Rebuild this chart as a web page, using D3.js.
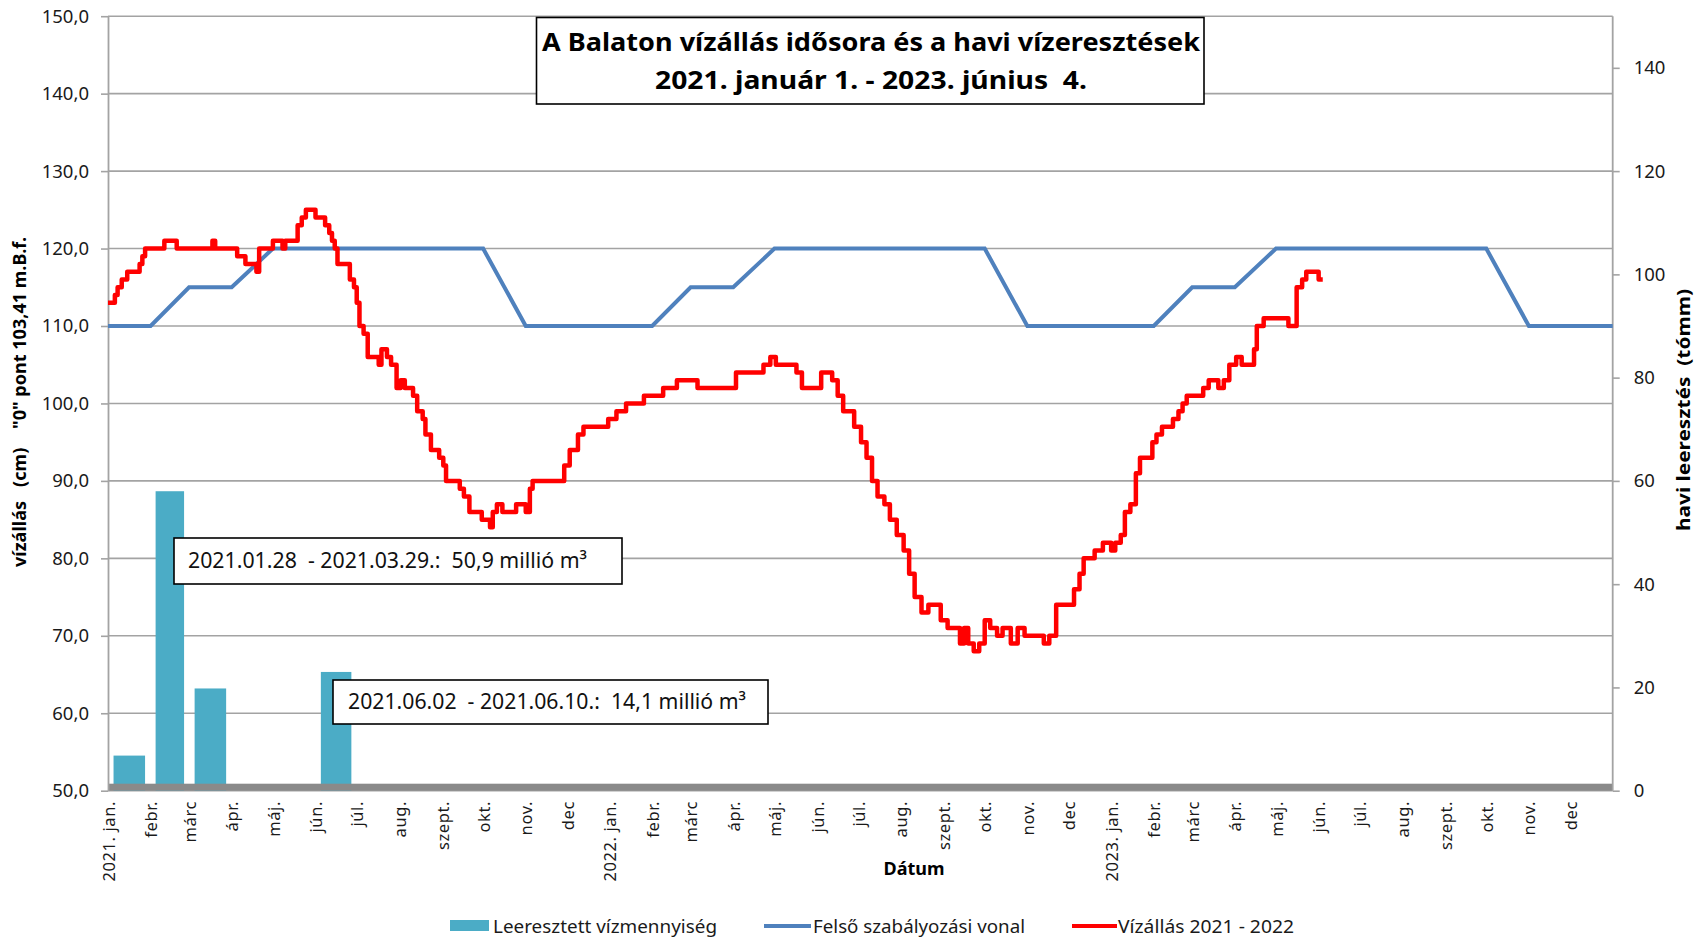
<!DOCTYPE html>
<html>
<head>
<meta charset="utf-8">
<script src="https://cdn.jsdelivr.net/npm/d3@7"></script>
<style>
  body { margin: 0; background: #fff; }
  svg { display: block; font-family: "Noto Sans", sans-serif; }
  text { white-space: pre; }
</style>
</head>
<body>
<svg id="chart" width="1696" height="938"></svg>
<script>
// month labels on the date axis
const monthLabels = ['jan.', 'febr.', 'márc', 'ápr.', 'máj.', 'jún.', 'júl.', 'aug.', 'szept.', 'okt.', 'nov.', 'dec']
const years = [2021, 2022, 2023]

// monthly released water (tómm), right axis
const barMonths = ['2021-01', '2021-02', '2021-03', '2021-06']
const barValues = [6.8, 58.0, 19.8, 23.0]

// upper regulation line (cm)
const regDates = ['2021-01-01', '2021-02-01', '2021-03-01', '2021-04-01', '2021-05-01', '2021-10-01', '2021-11-01',
  '2022-02-01', '2022-03-01', '2022-04-01', '2022-05-01', '2022-10-01', '2022-11-01',
  '2023-02-01', '2023-03-01', '2023-04-01', '2023-05-01', '2023-10-01', '2023-11-01', '2024-01-01']
const regValues = [110, 110, 115, 115, 120, 120, 110,
  110, 115, 115, 120, 120, 110,
  110, 115, 115, 120, 120, 110, 110]

// water level (cm), day offset from 2021-01-01 -> value
const levelDay = [0, 5, 7, 10, 14, 23, 25, 27, 41, 50, 76, 78, 94, 100, 108, 110, 120, 127, 129, 138, 141, 144, 151, 158, 161, 163, 165, 167, 176, 179, 181, 183,
  186, 189, 197, 199, 203, 206, 210, 213, 216, 222, 225, 229, 231, 235, 241, 244, 246, 256, 259, 263, 272, 278, 280, 283, 287, 297, 304, 307, 309, 332, 336, 342, 346, 364, 370, 377, 390,
  404, 414, 429, 457, 477, 482, 486, 501, 505, 519, 527, 531, 535, 543, 548, 552, 556, 560, 565, 569, 574, 579, 583, 587, 592, 597, 606, 611, 620, 623, 626, 630, 634, 638, 642, 647, 651, 657, 662, 667, 681, 685, 690, 703, 707, 710,
  718, 724, 730, 733, 737, 740, 744, 748, 751, 760, 763, 767, 775, 779, 782, 785, 797, 801, 808, 812, 816, 821, 825, 834, 836, 841, 859, 865, 869, 872, 881, 884]
const levelCm = [113, 114, 115, 116, 117, 118, 119, 120, 121, 120, 121, 120, 119, 118, 117, 120, 121, 120, 121, 123, 124, 125, 124, 123, 122, 121, 120, 118, 116, 115, 113, 110,
  109, 106, 105, 107, 106, 105, 102, 103, 102, 101, 99, 98, 96, 94, 93, 92, 90, 89, 88, 86, 85, 84, 86, 87, 86, 87, 86, 89, 90, 92, 94, 96, 97, 98, 99, 100, 101,
  102, 103, 102, 104, 105, 106, 105, 104, 102, 104, 103, 101, 99, 97, 95, 93, 90, 88, 87, 85, 83, 81, 78, 75, 73, 74, 72, 71, 69, 71, 69, 68, 69, 72, 71, 70, 71, 69, 71, 70, 69, 70, 74, 76, 78, 80,
  81, 82, 81, 82, 83, 86, 87, 91, 93, 95, 96, 97, 98, 99, 100, 101, 102, 103, 102, 103, 105, 106, 105, 107, 110, 111, 110, 115, 116, 117, 116, 116]

const titleLines = ['A Balaton vízállás idősora és a havi vízeresztések', '2021. január 1. - 2023. június  4.']
const notes = ['2021.01.28  - 2021.03.29.:  50,9 millió m³', '2021.06.02  - 2021.06.10.:  14,1 millió m³']
const legendNames = ['Leeresztett vízmennyiség', 'Felső szabályozási vonal', 'Vízállás 2021 - 2022']

const svg = d3.select('#chart')
const plotLeft = 108, plotRight = 1612.7, plotTop = 16.2, plotBottom = 790.7
const grey = '#a3a3a3'
const start = new Date(Date.UTC(2021, 0, 1))
const end = new Date(Date.UTC(2024, 0, 1))

const x = d3.scaleUtc().domain([start, end]).range([plotLeft, plotRight])
const yL = d3.scaleLinear().domain([50, 150]).range([plotBottom, plotTop])
const yR = d3.scaleLinear().domain([0, 150]).range([plotBottom, plotTop])

const fit = (sel, w) => sel.attr('textLength', w).attr('lengthAdjust', 'spacingAndGlyphs')

// gridlines
svg.append('g').selectAll('line')
  .data(d3.range(50, 151, 10))
  .join('line')
  .attr('x1', plotLeft).attr('x2', plotRight)
  .attr('y1', d => yL(d)).attr('y2', d => yL(d))
  .attr('stroke', grey).attr('stroke-width', 1.6)

// bars
const parseMonth = d3.utcParse('%Y-%m')
const bars = barMonths.map((m, i) => ({ m: parseMonth(m), v: barValues[i] }))
svg.append('g').selectAll('rect')
  .data(bars)
  .join('rect')
  .attr('x', d => {
    const x0 = x(d.m), x1 = x(d3.utcMonth.offset(d.m, 1))
    return (x0 + x1) / 2 - (x1 - x0) * 0.37
  })
  .attr('width', d => (x(d3.utcMonth.offset(d.m, 1)) - x(d.m)) * 0.74)
  .attr('y', d => yR(d.v))
  .attr('height', d => yR(0) - yR(d.v))
  .attr('fill', '#4bacc6')

// thick base band
svg.append('rect')
  .attr('x', plotLeft).attr('width', plotRight - plotLeft)
  .attr('y', yR(0) - 7).attr('height', 7)
  .attr('fill', '#8a8a8a')

// axes
const fmt = d => d3.format('.1f')(d).replace('.', ',')
const gL = svg.append('g').attr('transform', `translate(${plotLeft},0)`)
  .call(d3.axisLeft(yL).tickValues(d3.range(50, 151, 10)).tickFormat(fmt).tickSize(7).tickSizeOuter(0).tickPadding(12))
const gR = svg.append('g').attr('transform', `translate(${plotRight},0)`)
  .call(d3.axisRight(yR).tickValues(d3.range(0, 141, 20)).tickSize(7).tickSizeOuter(0).tickPadding(14))
;[gL, gR].forEach(g => {
  g.select('.domain').attr('stroke', grey).attr('stroke-width', 1.8)
  g.selectAll('.tick line').attr('stroke', grey).attr('stroke-width', 1.6)
  g.selectAll('.tick text').attr('font-size', 18.5).attr('fill', '#1a1a1a')
    .attr('font-family', '"Noto Sans", sans-serif')
})
gR.select('.domain').attr('d', `M0,${plotTop}V${plotBottom}`)

// date axis labels
const monthStarts = d3.utcMonths(start, end)
const xLabels = monthStarts.map((d, i) => (i % 12 === 0 ? `${years[i / 12]}. ` : '') + monthLabels[i % 12])
svg.append('g').selectAll('text')
  .data(monthStarts)
  .join('text')
  .attr('transform', d => `translate(${x(d)},801) rotate(-90)`)
  .attr('text-anchor', 'end')
  .attr('dy', '0.4em')
  .attr('font-size', 16.5)
  .attr('letter-spacing', 0.6)
  .attr('fill', '#1a1a1a')
  .text((d, i) => xLabels[i])

// regulation line
const regData = regDates.map((d, i) => ({ d: d3.utcParse('%Y-%m-%d')(d), v: regValues[i] }))
svg.append('path')
  .datum(regData)
  .attr('fill', 'none')
  .attr('stroke', '#4f81bd')
  .attr('stroke-width', 4)
  .attr('d', d3.line().x(d => x(d.d)).y(d => yL(d.v)))

// water level
const levelData = levelDay.map((d, i) => ({ d: d3.utcDay.offset(start, d), v: levelCm[i] }))
svg.append('path')
  .datum(levelData)
  .attr('fill', 'none')
  .attr('stroke', '#ff0000')
  .attr('stroke-width', 4.5)
  .attr('stroke-linejoin', 'round')
  .attr('d', d3.line().curve(d3.curveStepAfter).x(d => x(d.d)).y(d => yL(d.v)))

// title box
svg.append('rect')
  .attr('x', 536.5).attr('y', 17.5).attr('width', 667.5).attr('height', 86.5)
  .attr('fill', '#fff').attr('stroke', '#000').attr('stroke-width', 1.6)
const titleW = [658, 432]
titleLines.forEach((t, i) => {
  svg.append('text')
    .attr('x', 871).attr('y', i ? 89 : 51)
    .attr('text-anchor', 'middle')
    .attr('font-size', 25).attr('font-weight', 'bold')
    .text(t)
    .call(fit, titleW[i])
})

// annotation boxes
const noteBoxes = [
  { x: 174, y: 538, w: 448, h: 46, tx: 188, ty: 568, tw: 399 },
  { x: 333, y: 680, w: 435, h: 44, tx: 348, ty: 709, tw: 398 }
]
noteBoxes.forEach((b, i) => {
  svg.append('rect')
    .attr('x', b.x).attr('y', b.y).attr('width', b.w).attr('height', b.h)
    .attr('fill', '#fff').attr('stroke', '#000').attr('stroke-width', 1.6)
  svg.append('text')
    .attr('x', b.tx).attr('y', b.ty)
    .attr('font-size', 21).attr('fill', '#111')
    .text(notes[i])
    .call(fit, b.tw)
})

// axis titles
svg.append('text')
  .attr('transform', 'translate(20,402) rotate(-90)')
  .attr('text-anchor', 'middle').attr('dy', '0.35em')
  .attr('font-size', 17).attr('font-weight', 'bold')
  .text('vízállás   (cm)    "0" pont 103,41 m.B.f.')
  .call(fit, 330)
svg.append('text')
  .attr('transform', 'translate(1684,410) rotate(-90)')
  .attr('text-anchor', 'middle').attr('dy', '0.35em')
  .attr('font-size', 17).attr('font-weight', 'bold')
  .text('havi leeresztés  (tómm)')
  .call(fit, 242)
svg.append('text')
  .attr('x', 914).attr('y', 875)
  .attr('text-anchor', 'middle')
  .attr('font-size', 18).attr('font-weight', 'bold')
  .text('Dátum')

// legend
const lg = svg.append('g')
lg.append('rect').attr('x', 450).attr('y', 920).attr('width', 39).attr('height', 11).attr('fill', '#4bacc6')
lg.append('line').attr('x1', 764).attr('x2', 811).attr('y1', 926).attr('y2', 926).attr('stroke', '#4f81bd').attr('stroke-width', 4)
lg.append('line').attr('x1', 1072).attr('x2', 1117).attr('y1', 926).attr('y2', 926).attr('stroke', '#ff0000').attr('stroke-width', 4)
const legendPos = [[493, 224], [813, 212], [1118, 176]]
legendNames.forEach((n, i) => {
  lg.append('text')
    .attr('x', legendPos[i][0]).attr('y', 933)
    .attr('font-size', 18).attr('fill', '#1a1a1a')
    .text(n)
    .call(fit, legendPos[i][1])
})
</script>
</body>
</html>
